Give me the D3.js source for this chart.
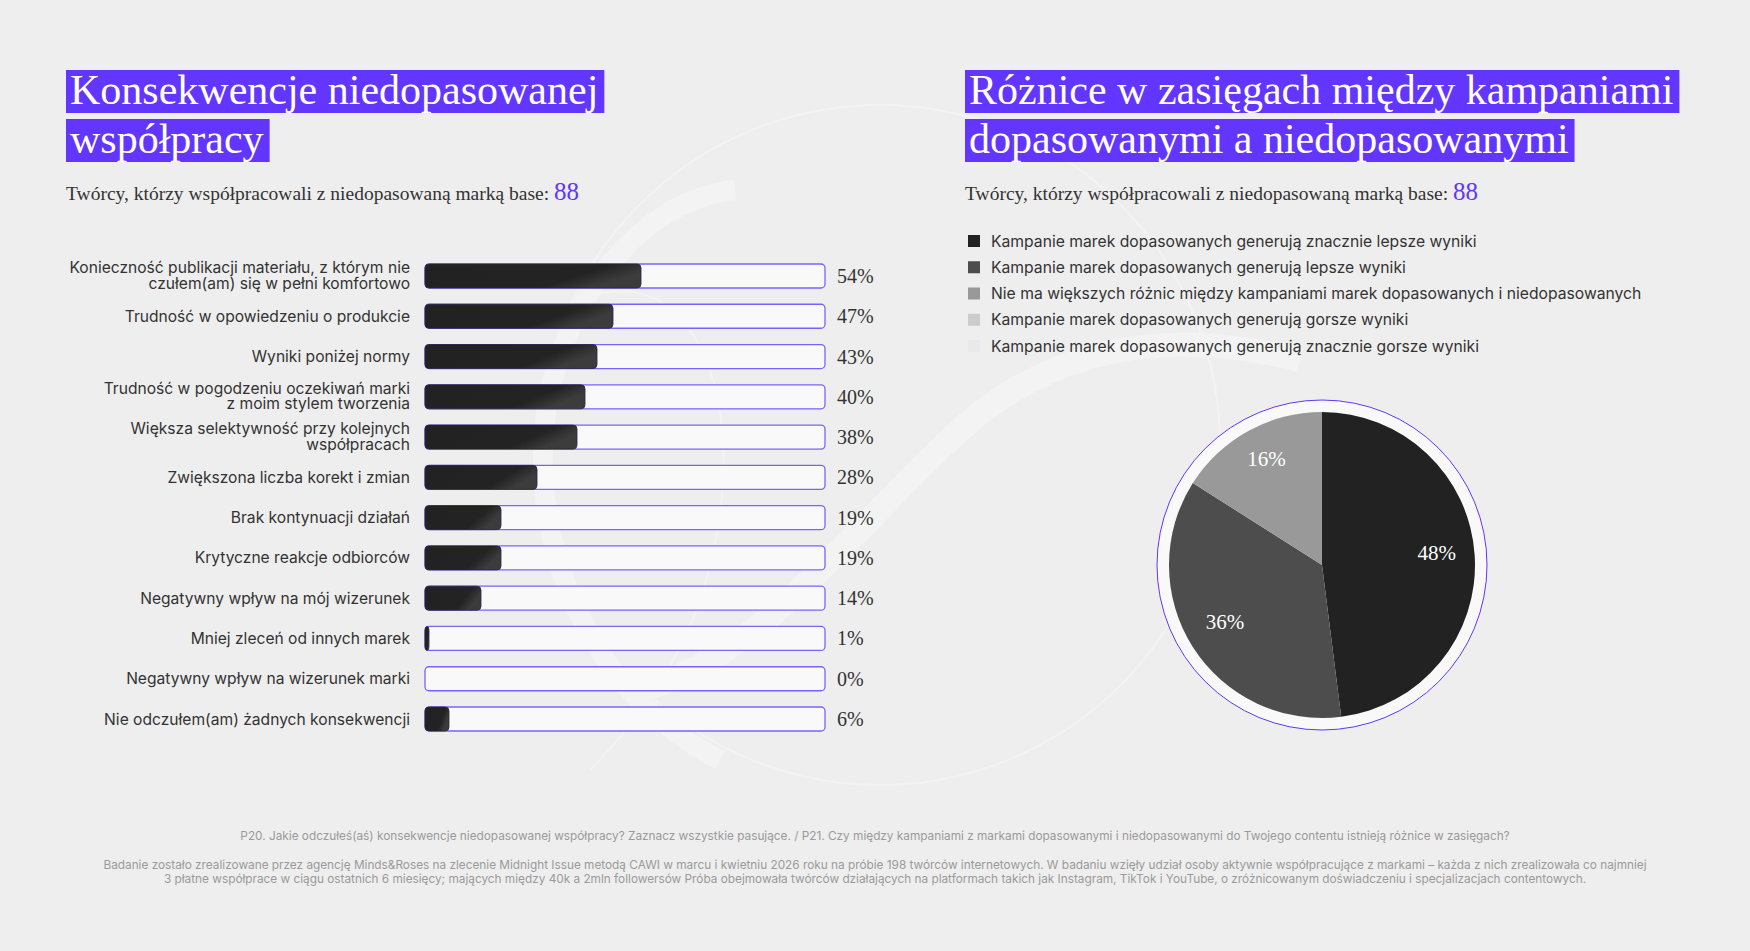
<!DOCTYPE html>
<html>
<head>
<meta charset="utf-8">
<script src="https://cdn.jsdelivr.net/npm/d3@7"></script>
<style>
  html, body { margin: 0; padding: 0; background: #eeeeee; }
  svg { display: block; }
</style>
</head>
<body>
<div id="chart"></div>
<script>
// bar chart data
var barLabels = [
    "Konieczność publikacji materiału, z którym nie\nczułem(am) się w pełni komfortowo",
    "Trudność w opowiedzeniu o produkcie",
    "Wyniki poniżej normy",
    "Trudność w pogodzeniu oczekiwań marki\nz moim stylem tworzenia",
    "Większa selektywność przy kolejnych\nwspółpracach",
    "Zwiększona liczba korekt i zmian",
    "Brak kontynuacji działań",
    "Krytyczne reakcje odbiorców",
    "Negatywny wpływ na mój wizerunek",
    "Mniej zleceń od innych marek",
    "Negatywny wpływ na wizerunek marki",
    "Nie odczułem(am) żadnych konsekwencji"
];
var barValues = [54, 47, 43, 40, 38, 28, 19, 19, 14, 1, 0, 6];

// pie data
var pieLabels = [
    "Kampanie marek dopasowanych generują znacznie lepsze wyniki",
    "Kampanie marek dopasowanych generują lepsze wyniki",
    "Nie ma większych różnic między kampaniami marek dopasowanych i niedopasowanych",
    "Kampanie marek dopasowanych generują gorsze wyniki",
    "Kampanie marek dopasowanych generują znacznie gorsze wyniki"
];
var pieValues = [48, 36, 16, 0, 0];
var pieColors = ["#222222", "#4d4d4d", "#999999", "#cccccc", "#e9e9e9"];

var leftTitle = ["Konsekwencje niedopasowanej", "współpracy"];
var rightTitle = ["Różnice w zasięgach między kampaniami", "dopasowanymi a niedopasowanymi"];
var subtitleText = "Twórcy, którzy współpracowali z niedopasowaną marką base: ";
var baseN = "88";

var footLines = [
    "P20. Jakie odczułeś(aś) konsekwencje niedopasowanej współpracy? Zaznacz wszystkie pasujące. / P21. Czy między kampaniami z markami dopasowanymi i niedopasowanymi do Twojego contentu istnieją różnice w zasięgach?",
    "Badanie zostało zrealizowane przez agencję Minds&Roses na zlecenie Midnight Issue metodą CAWI w marcu i kwietniu 2026 roku na próbie 198 twórców internetowych. W badaniu wzięły udział osoby aktywnie współpracujące z markami – każda z nich zrealizowała co najmniej",
    "3 płatne współprace w ciągu ostatnich 6 miesięcy; mających między 40k a 2mln followersów Próba obejmowała twórców działających na platformach takich jak Instagram, TikTok i YouTube, o zróżnicowanym doświadczeniu i specjalizacjach contentowych."
];

var W = 1750, H = 951;
var purple = "#6236ff";
var serif = "'Liberation Serif', 'DejaVu Serif', serif";
var sans = "Inter, 'Noto Sans', sans-serif";

var svg = d3.select("#chart").append("svg")
    .attr("width", W)
    .attr("height", H);

svg.append("rect").attr("width", W).attr("height", H).attr("fill", "#eeeeee");

// faint decorative watermark behind everything
var deco = svg.append("g").attr("fill", "none").attr("stroke", "#f3f3f3");
deco.append("circle").attr("cx", 880).attr("cy", 445).attr("r", 340).attr("stroke-width", 2);
deco.append("path")
    .attr("stroke-width", 20)
    .attr("d", "M735,190 C640,200 560,300 545,420 C530,560 600,700 720,760");
deco.append("path")
    .attr("stroke-width", 24)
    .attr("d", "M640,690 C760,660 860,520 960,430 C1060,340 1180,330 1300,360");
deco.append("path")
    .attr("stroke-width", 2)
    .attr("d", "M580,300 C700,250 760,420 700,600 C680,660 640,720 590,770");

// title boxes
function drawTitle(lines, x0, y0) {
    var g = svg.append("g");
    lines.forEach(function (t, i) {
        var top = y0 + i * 49;
        var rect = g.append("rect")
            .attr("x", x0).attr("y", top)
            .attr("height", 43)
            .attr("fill", purple);
        var txt = g.append("text")
            .attr("x", x0 + 4).attr("y", top + 34)
            .attr("fill", "white")
            .style("font-family", serif)
            .style("font-size", "42px")
            .text(t);
        var w = txt.node().getComputedTextLength();
        rect.attr("width", w + 10);
    });
}
drawTitle(leftTitle, 66, 70);
drawTitle(rightTitle, 965, 70);

function drawSubtitle(x0) {
    var t = svg.append("text")
        .attr("x", x0).attr("y", 200)
        .attr("fill", "#333")
        .style("font-family", serif)
        .style("font-size", "19.5px");
    t.append("tspan").text(subtitleText);
    t.append("tspan").attr("fill", purple).style("font-size", "25px").text(baseN);
}
drawSubtitle(66);
drawSubtitle(965);

// ---------- bar chart ----------
var x = d3.scaleLinear().domain([0, 100]).range([425, 825]);
var y = d3.scalePoint().domain(d3.range(barValues.length)).range([276, 719]);
var barH = 24;

var defs = svg.append("defs");
var grad = defs.append("linearGradient")
    .attr("id", "barShine")
    .attr("x1", "0").attr("y1", "0").attr("x2", "1").attr("y2", "0.35");
grad.append("stop").attr("offset", "0%").attr("stop-color", "#222222");
grad.append("stop").attr("offset", "78%").attr("stop-color", "#232323");
grad.append("stop").attr("offset", "100%").attr("stop-color", "#3c3c3c");

var rows = svg.append("g").selectAll(".row")
    .data(barValues)
    .enter().append("g")
        .attr("class", "row");

rows.each(function (d, i) {
    var g = d3.select(this);
    // track
    g.append("rect")
        .attr("x", x(0))
        .attr("y", y(i) - barH / 2)
        .attr("width", x(100) - x(0))
        .attr("height", barH)
        .attr("rx", 4)
        .attr("fill", "#f9f9f9")
        .attr("stroke", "#7d60ff")
        .attr("stroke-width", 1.3);
    // value fill
    if (d > 0) {
        g.append("rect")
            .attr("x", x(0))
            .attr("y", y(i) - barH / 2)
            .attr("width", Math.max(x(d) - x(0), 4))
            .attr("height", barH)
            .attr("rx", 4)
            .attr("fill", "url(#barShine)")
            .attr("stroke", "#2a2440")
            .attr("stroke-width", 0.8);
    }
    g.append("text")
        .attr("x", 837)
        .attr("y", y(i) + 7)
        .attr("fill", "#333")
        .style("font-family", serif)
        .style("font-size", "20px")
        .text(d + "%");

    var parts = barLabels[i].split("\n");
    var lab = g.append("text")
        .attr("text-anchor", "end")
        .attr("fill", "#333")
        .style("font-family", sans)
        .style("font-size", "15.6px");
    if (parts.length === 1) {
        lab.append("tspan").attr("x", 410).attr("y", y(i) + 5.5).text(parts[0]);
    } else {
        lab.append("tspan").attr("x", 410).attr("y", y(i) - 3).text(parts[0]);
        lab.append("tspan").attr("x", 410).attr("y", y(i) + 12.5).text(parts[1]);
    }
});

// ---------- legend ----------
var legY = d3.scalePoint().domain(d3.range(pieLabels.length)).range([241, 346]);
var legend = svg.append("g").selectAll(".leg")
    .data(pieLabels)
    .enter().append("g")
        .attr("transform", function (d, i) { return "translate(968," + legY(i) + ")"; });
legend.append("rect")
    .attr("x", 0).attr("y", -6)
    .attr("width", 12).attr("height", 12)
    .attr("fill", function (d, i) { return pieColors[i]; });
legend.append("text")
    .attr("x", 23).attr("y", 5.5)
    .attr("fill", "#333")
    .style("font-family", sans)
    .style("font-size", "15.7px")
    .text(function (d) { return d; });

// ---------- pie ----------
var cx = 1322, cy = 565, R = 153;
var pg = svg.append("g").attr("transform", "translate(" + cx + "," + cy + ")");
pg.append("circle")
    .attr("r", 165)
    .attr("fill", "#f9f9f9")
    .attr("stroke", purple)
    .attr("stroke-width", 1);

var pie = d3.pie().sort(null).value(function (d) { return d; });
var arcs = pie(pieValues);
var arc = d3.arc().innerRadius(0).outerRadius(R);
var labelArc = d3.arc().innerRadius(115).outerRadius(115);

pg.selectAll(".slice")
    .data(arcs)
    .enter().append("path")
        .attr("d", arc)
        .attr("fill", function (d, i) { return pieColors[i]; });

pg.selectAll(".plab")
    .data(arcs.filter(function (d) { return d.value > 0; }))
    .enter().append("text")
        .attr("transform", function (d) { return "translate(" + labelArc.centroid(d) + ")"; })
        .attr("text-anchor", "middle")
        .attr("dy", "0.1em")
        .attr("fill", "white")
        .style("font-family", serif)
        .style("font-size", "21px")
        .text(function (d) { return d.value + "%"; });

// ---------- footer ----------
svg.append("g").selectAll("text")
    .data(footLines)
    .enter().append("text")
        .attr("x", 875)
        .attr("y", function (d, i) { return [840, 869, 883][i]; })
        .attr("text-anchor", "middle")
        .attr("fill", "#9a9a9a")
        .style("font-family", sans)
        .style("font-size", "11.8px")
        .text(function (d) { return d; });
</script>
</body>
</html>
